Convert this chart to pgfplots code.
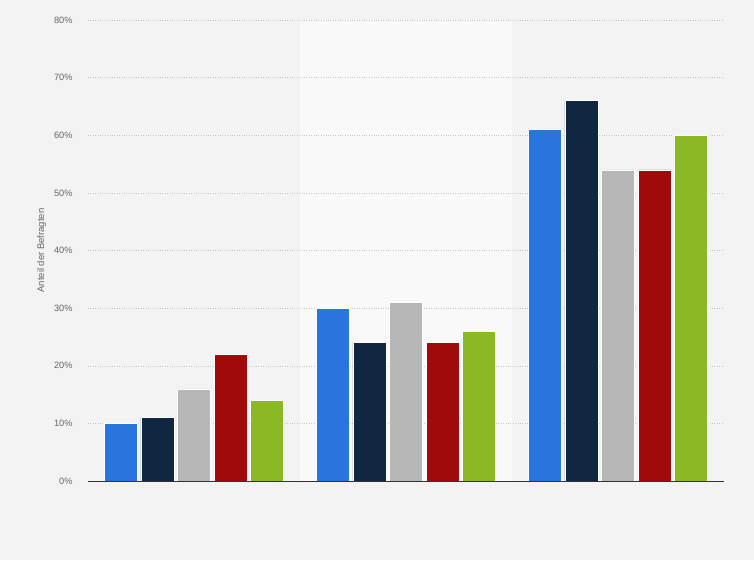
\documentclass[border=0pt]{standalone}
\usepackage{fontspec}
\setmainfont{Liberation Sans}
\usepackage{pgfplots}
\pgfplotsset{compat=1.18}
\definecolor{bgcol}{HTML}{F3F3F3}
\definecolor{bandcol}{HTML}{F9F9F9}
\definecolor{cblue}{HTML}{2876DD}
\definecolor{cnavy}{HTML}{0F2741}
\definecolor{cgray}{HTML}{B7B7B7}
\definecolor{cred}{HTML}{A10A0A}
\definecolor{cgreen}{HTML}{8AB925}
\definecolor{ticktxt}{HTML}{666666}

\pgfplotsset{
	frame/.style={
		at={(88pt,79pt)},
		anchor=south west,
		scale only axis,
		width=636pt,
		height=461pt,
		xmin=-0.5, xmax=2.5,
		ymin=0, ymax=80,
	},
}

\begin{document}
\begin{tikzpicture}
	\fill[bgcol] (0,0) rectangle (754pt,560pt);
	\useasboundingbox (0,0) rectangle (754pt,560pt);
	% lighter band behind the middle group
	\begin{axis}[frame, axis lines=none]
		\fill[bandcol] (axis cs:0.5,0) rectangle (axis cs:1.5,80);
	\end{axis}
	\begin{axis}[
			frame,
			clip=false,
			ytick={0,10,...,80},
			yticklabel={\pgfmathprintnumber{\tick}\%},
			xtick=\empty,
			ymajorgrids=true,
			grid style={dotted, color=black!22, line width=0.5pt},
			axis x line*=bottom,
			axis y line*=left,
			x axis line style={draw=none},
			y axis line style={draw=none},
			ytick style={draw=none},
			yticklabel style={font=\fontsize{9.2}{11}\selectfont, color=ticktxt, xshift=-12pt},
			/pgf/number format/assume math mode=true,
			ylabel={Anteil der Befragten},
			ylabel style={font=\fontsize{9.5}{11}\selectfont, color=ticktxt},
			ylabel shift=1pt,
			ybar=3.6pt,
			bar width=33pt,
			every axis plot/.append style={draw=white, line width=0.5pt},
		]
		\addplot[fill=cblue] coordinates {(0,10) (1,30) (2,61)};
		\addplot[fill=cnavy] coordinates {(0,11) (1,24) (2,66)};
		\addplot[fill=cgray] coordinates {(0,16) (1,31) (2,54)};
		\addplot[fill=cred] coordinates {(0,22) (1,24) (2,54)};
		\addplot[fill=cgreen] coordinates {(0,14) (1,26) (2,60)};
		% baseline drawn above the bars
		\draw[black!80, line width=0.8pt] (axis cs:-0.5,0) -- (axis cs:2.5,0);
	\end{axis}
\end{tikzpicture}
\end{document}
